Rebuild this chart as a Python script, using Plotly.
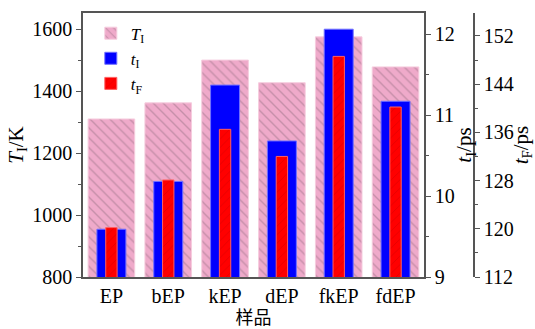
import plotly.graph_objects as go

categories = ["EP", "bEP", "kEP", "dEP", "fkEP", "fdEP"]
T_I = [1310, 1362, 1500, 1427, 1575, 1478]
t_I = [9.59, 10.18, 11.37, 10.68, 12.06, 11.17]
t_F = [120.2, 128.1, 136.5, 132.0, 148.6, 140.2]

FONT = "Liberation Serif, Times New Roman, serif"
AX = "#555555"

fig = go.Figure()
fig.add_trace(go.Bar(
    x=categories, y=T_I, name="<i>T</i><sub>I</sub>", width=0.82, yaxis="y",
    marker=dict(color="#EFAACA", line=dict(color="#F6CCDE", width=1),
                pattern=dict(shape="\\", fgcolor="#9c7488", size=7, solidity=0.2)),
))
fig.add_trace(go.Bar(
    x=categories, y=t_I, name="<i>t</i><sub>I</sub>", width=0.51, yaxis="y2",
    marker=dict(color="#0000FF", line=dict(color="#7070FF", width=1)),
))
fig.add_trace(go.Bar(
    x=categories, y=t_F, name="<i>t</i><sub>F</sub>", width=0.2, yaxis="y3",
    marker=dict(color="#FF0000", line=dict(color="#FF6060", width=1),
                pattern=dict(shape="/", fgcolor="#C00000", size=6, solidity=0.12)),
))

titlefont = dict(family=FONT, size=21, color="black")


def tf():
    return dict(family=FONT, size=20, color="black")


def yax(rng, dt, minor_dt, title, **kw):
    d = dict(range=rng, showline=True, linecolor=AX, linewidth=1.5,
             ticks="outside", ticklen=5, tickcolor=AX, dtick=dt, tick0=rng[0],
             minor=dict(ticks="outside", ticklen=3, dtick=minor_dt, tickcolor=AX, showgrid=False),
             tickfont=tf(), showgrid=False, zeroline=False, automargin=False,
             title=dict(text=title, font=titlefont, standoff=3))
    d.update(kw)
    return d


fig.update_layout(
    width=535, height=329,
    margin=dict(l=83, r=61, t=13, b=52, autoexpand=False),
    paper_bgcolor="white", plot_bgcolor="white",
    barmode="overlay",
    font=dict(family=FONT, size=20, color="black"),
    showlegend=True,
    legend=dict(x=0.02, y=0.99, xanchor="left", yanchor="top",
                bgcolor="rgba(0,0,0,0)", font=dict(family=FONT, size=17),
                tracegroupgap=4, traceorder="normal"),
    xaxis=dict(domain=[0, 0.872], range=[-0.5, 5.5], showline=True, linecolor=AX,
               linewidth=1.5, mirror=True, ticks="", tickfont=tf(), automargin=False,
               title=dict(text="样品", font=dict(family="Noto Sans CJK SC", size=18, color="black"), standoff=2),
               showgrid=False),
    yaxis=yax([800, 1652], 200, 100, "<i>T</i><sub>I</sub>/K"),
    yaxis2=yax([9, 12.26], 1, 0.5, "<i>t</i><sub>I</sub>/ps", overlaying="y", side="right", anchor="x"),
    yaxis3=yax([112, 155.8], 8, 4, "<i>t</i><sub>F</sub>/ps", overlaying="y", side="right",
               anchor="free", position=1.0),
)

fig.write_html("out.html")
